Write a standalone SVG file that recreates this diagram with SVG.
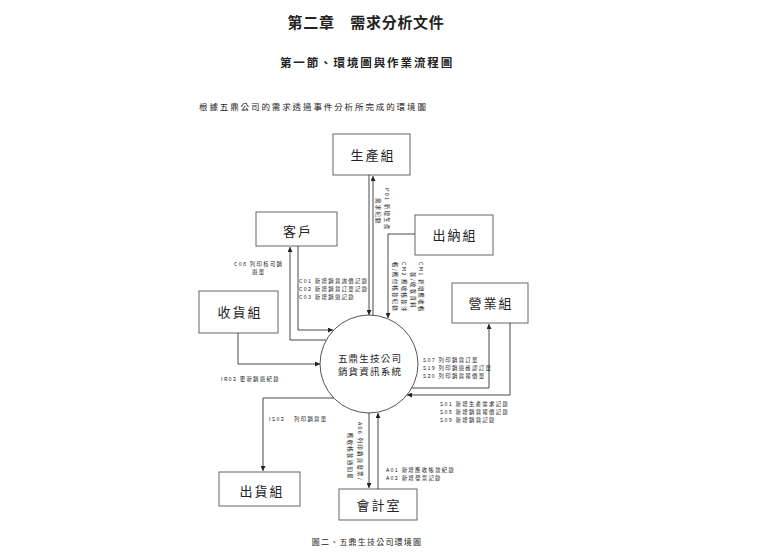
<svg xmlns="http://www.w3.org/2000/svg" width="783" height="560" viewBox="0 0 783 560">
<defs>
<marker id="arr" viewBox="0 0 6 6" refX="6" refY="3" markerWidth="5" markerHeight="5" markerUnits="userSpaceOnUse" orient="auto"><path d="M0,0 L6,3 L0,6 z" fill="#222"/></marker>
<style>
.t{font-family:"Noto Sans CJK TC","Noto Sans CJK SC",sans-serif;fill:#222}
.box{fill:#fff;stroke:#666;stroke-width:1}
.lbl{font-size:13px;letter-spacing:2px;text-anchor:middle}
.s{font-size:5.4px;letter-spacing:1.3px}
.c{fill:none;stroke:#333;stroke-width:0.9;marker-end:url(#arr)}
</style>
</defs>
<rect width="783" height="560" fill="#fff"/>
<g id="header">
<text class="t" x="366" y="28" font-size="15" font-weight="bold" letter-spacing="0.7" text-anchor="middle">第二章　需求分析文件</text>
<text class="t" x="367" y="67" font-size="11.5" font-weight="bold" letter-spacing="1.9" text-anchor="middle">第一節、環境圖與作業流程圖</text>
<text class="t" x="199" y="110" font-size="8.5" letter-spacing="1.9">根據五鼎公司的需求透過事件分析所完成的環境圖</text>
</g>
<g id="system">
<circle cx="369" cy="364" r="49" fill="#fff" stroke="#555" stroke-width="1"/>
<text class="t" x="370" y="362" font-size="9.5" letter-spacing="1.2" text-anchor="middle">五鼎生技公司</text>
<text class="t" x="370" y="375" font-size="9.5" letter-spacing="1.2" text-anchor="middle">銷貨資訊系統</text>
</g>
<g id="production"><rect class="box" x="333" y="134" width="77" height="41"/><text class="t lbl" x="373" y="160">生產組</text></g>
<g id="customer"><rect class="box" x="256" y="212" width="81" height="34"/><text class="t lbl" x="298" y="236">客戶</text></g>
<g id="cashier"><rect class="box" x="415" y="215" width="78" height="40"/><text class="t lbl" x="455" y="240">出納組</text></g>
<g id="sales"><rect class="box" x="452" y="283" width="76" height="40"/><text class="t lbl" x="491" y="308">營業組</text></g>
<g id="receiving"><rect class="box" x="199" y="291" width="79" height="42"/><text class="t lbl" x="240" y="317">收貨組</text></g>
<g id="shipping"><rect class="box" x="219" y="472" width="81" height="34"/><text class="t lbl" x="262" y="496">出貨組</text></g>
<g id="accounting"><rect class="box" x="339" y="489" width="78" height="31"/><text class="t lbl" x="379" y="510">會計室</text></g>
<g id="connectors">
<path class="c" d="M373,315 V176"/>
<path class="c" d="M369,175 V315"/>
<path class="c" d="M326,340 H290 V247"/>
<path class="c" d="M298,246 V330 H333"/>
<path class="c" d="M415,234 H388 V318"/>
<path class="c" d="M412,388 H489 V324"/>
<path class="c" d="M510,323 V395 H407"/>
<path class="c" d="M238,333 V364 H320"/>
<path class="c" d="M334,398 H263 V471"/>
<path class="c" d="M369,413 V488"/>
<path class="c" d="M378,489 V413"/>
</g>
<g id="labels">
<text class="t s" transform="translate(385,188) rotate(90)">P01 新增生產</text>
<text class="t s" transform="translate(376,198) rotate(90)">需求紀錄</text>
<text class="t s" transform="translate(419,262) rotate(90)">CM1 新增應收帳</text>
<text class="t s" transform="translate(411,272) rotate(90)">款/收款資料</text>
<text class="t s" transform="translate(402,262) rotate(90)">CM2 應收帳款沖</text>
<text class="t s" transform="translate(393,262) rotate(90)">帳/應付帳款紀錄</text>
<text class="t s" transform="translate(358,422) rotate(90)">A06 列印銷貨發票/</text>
<text class="t s" transform="translate(348,433) rotate(90)">應收帳款通知單</text>
<text class="t s" x="234" y="266">C08 列印核可銷</text>
<text class="t s" x="252" y="274">退單</text>
<text class="t s" x="299" y="283">C01 新增銷貨詢價記錄</text>
<text class="t s" x="299" y="291">C02 新增銷貨訂單記錄</text>
<text class="t s" x="299" y="299">C03 新增銷退記錄</text>
<text class="t s" x="221" y="381">IR02 更新銷退紀錄</text>
<text class="t s" x="269" y="421">IS02</text>
<text class="t s" x="294" y="421">列印銷貨單</text>
<text class="t s" x="423" y="362">S07 列印銷貨訂單</text>
<text class="t s" x="423" y="370">S19 列印銷退確認訂單</text>
<text class="t s" x="423" y="378">S20 列印銷貨報價單</text>
<text class="t s" x="440" y="406">S01 新增生產需求記錄</text>
<text class="t s" x="440" y="414">S08 新增銷貨報價記錄</text>
<text class="t s" x="440" y="422">S09 新增銷貨記錄</text>
<text class="t s" x="386" y="472">A01 新增應收帳款紀錄</text>
<text class="t s" x="386" y="480">A02 新增發票記錄</text>
</g>
<text class="t" x="367" y="545" font-size="8" letter-spacing="1.2" text-anchor="middle">圖二、五鼎生技公司環境圖</text>
</svg>
